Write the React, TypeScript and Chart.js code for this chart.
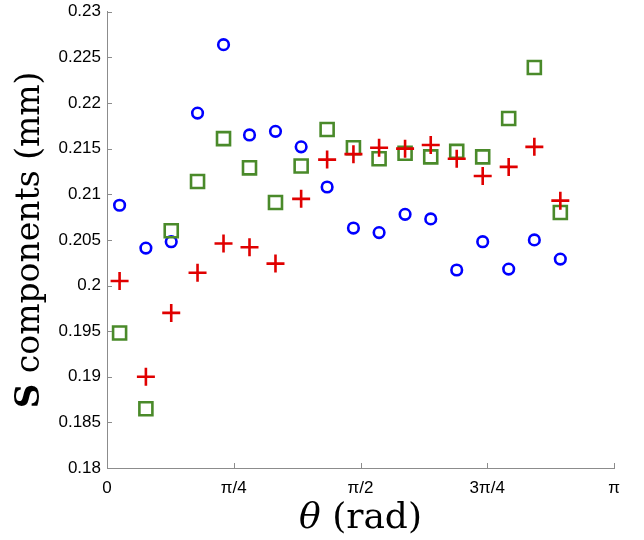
import React, { useEffect, useRef } from "react";
import { Chart, registerables } from "chart.js";

Chart.register(...registerables);

// angle of each sample (rad)
const thetaRad = [0.078, 0.241, 0.398, 0.561, 0.722, 0.883, 1.044, 1.203, 1.364, 1.527, 1.686, 1.847, 2.006, 2.167, 2.328, 2.489, 2.648, 2.809];

// S components (mm)
const blueS = [0.2088, 0.2041, 0.2048, 0.2189, 0.2264, 0.2165, 0.2169, 0.2152, 0.2108, 0.2063, 0.2058, 0.2078, 0.2073, 0.2017, 0.2048, 0.2018, 0.205, 0.2029];
const redS = [0.2005, 0.19, 0.197, 0.2014, 0.2046, 0.2042, 0.2024, 0.2095, 0.2138, 0.2144, 0.2151, 0.215, 0.2154, 0.2139, 0.212, 0.213, 0.2152, 0.2093];
const greenS = [0.1948, 0.1865, 0.206, 0.2114, 0.2161, 0.2129, 0.2091, 0.2131, 0.2171, 0.2151, 0.2139, 0.2145, 0.2141, 0.2147, 0.2141, 0.2183, 0.2239, 0.208];

// tick values and labels
const xTickValues = [0, Math.PI / 4, Math.PI / 2, (3 * Math.PI) / 4, Math.PI];
const xTickLabels = ["0", "π/4", "π/2", "3π/4", "π"];
const yTickValues = [0.18, 0.185, 0.19, 0.195, 0.2, 0.205, 0.21, 0.215, 0.22, 0.225, 0.23];
const yTickLabels = ["0.18", "0.185", "0.19", "0.195", "0.2", "0.205", "0.21", "0.215", "0.22", "0.225", "0.23"];

const AXIS_COLOR = "#8c8c8c";
const BLUE = "#0000ff";
const RED = "#e00000";
const GREEN = "#4a8a2a";

const toPoints = (ys: number[]) => ys.map((y, i) => ({ x: thetaRad[i], y }));

const decorPlugin = {
  id: "decor",
  afterDraw(chart: any) {
    const ctx: CanvasRenderingContext2D = chart.ctx;
    const xs = chart.scales.x;
    const ys = chart.scales.y;
    const { left, right, top, bottom } = chart.chartArea;
    ctx.save();
    // inward tick marks
    ctx.strokeStyle = AXIS_COLOR;
    ctx.lineWidth = 1;
    ctx.beginPath();
    xs.ticks.forEach((t: any) => {
      const px = Math.round(xs.getPixelForValue(t.value)) + 0.5;
      ctx.moveTo(px, bottom);
      ctx.lineTo(px, bottom - 5);
    });
    ys.ticks.forEach((t: any) => {
      const py = Math.round(ys.getPixelForValue(t.value)) + 0.5;
      ctx.moveTo(left, py);
      ctx.lineTo(left + 5, py);
    });
    ctx.stroke();

    // x title: θ (rad)
    ctx.fillStyle = "#000";
    ctx.textBaseline = "alphabetic";
    ctx.textAlign = "left";
    const fxI = 'italic 36px "DejaVu Serif"';
    const fxR = '36px "DejaVu Serif"';
    ctx.font = fxI;
    const w1 = ctx.measureText("θ").width;
    ctx.font = fxR;
    const w2 = ctx.measureText(" (rad)").width;
    const cx = (left + right) / 2;
    const x0 = cx - (w1 + w2) / 2;
    const by = chart.height - 12;
    ctx.font = fxI;
    ctx.fillText("θ", x0, by);
    ctx.font = fxR;
    ctx.fillText(" (rad)", x0 + w1, by);

    // y title: S components (mm)
    const fyB = 'bold 34px "DejaVu Serif"';
    const fyR = '33px "DejaVu Serif"';
    ctx.font = fyB;
    const s1 = ctx.measureText("S").width;
    ctx.font = fyR;
    const s2 = ctx.measureText(" components (mm)").width;
    const cy = (top + bottom) / 2;
    ctx.translate(39, cy);
    ctx.rotate(-Math.PI / 2);
    const y0 = -(s1 + s2) / 2;
    ctx.font = fyB;
    ctx.fillText("S", y0, 0);
    ctx.font = fyR;
    ctx.fillText(" components (mm)", y0 + s1, 0);
    ctx.restore();
  },
};

export default function App() {
  const ref = useRef<HTMLCanvasElement | null>(null);

  useEffect(() => {
    if (!ref.current) return;
    const chart = new Chart(ref.current, {
      type: "scatter",
      data: {
        datasets: [
          {
            label: "red",
            data: toPoints(redS),
            pointStyle: "cross",
            radius: 9,
            borderWidth: 2.6,
            borderColor: RED,
            backgroundColor: RED,
            clip: false as any,
          },
          {
            label: "green",
            data: toPoints(greenS),
            pointStyle: "rect",
            radius: 9.2,
            borderWidth: 2.6,
            borderColor: GREEN,
            backgroundColor: "rgba(0,0,0,0)",
            clip: false as any,
          },
          {
            label: "blue",
            data: toPoints(blueS),
            pointStyle: "circle",
            radius: 5.3,
            borderWidth: 2.6,
            borderColor: BLUE,
            backgroundColor: "rgba(0,0,0,0)",
            clip: false as any,
          },
        ],
      },
      options: {
        animation: false,
        responsive: false,
        events: [],
        layout: { padding: { top: 6, right: 30, left: 0, bottom: 0 } },
        plugins: { legend: { display: false }, tooltip: { enabled: false } },
        elements: { point: { hoverRadius: 0 } },
        scales: {
          x: {
            type: "linear",
            min: 0,
            max: Math.PI,
            grid: { display: false, drawTicks: false },
            border: { display: true, color: AXIS_COLOR, width: 1 },
            afterBuildTicks: (scale: any) => {
              scale.ticks = xTickValues.map((v) => ({ value: v }));
            },
            afterFit: (scale: any) => {
              scale.height = 72;
              scale.paddingLeft = 0;
              scale.paddingRight = 0;
            },
            ticks: {
              autoSkip: false,
              maxRotation: 0,
              padding: 10,
              color: "#000",
              font: { family: '"Liberation Sans", Arial, sans-serif', size: 17 },
              callback: (_v: any, i: number) => xTickLabels[i],
            },
          },
          y: {
            type: "linear",
            min: 0.18,
            max: 0.23,
            grid: { display: false, drawTicks: false },
            border: { display: true, color: AXIS_COLOR, width: 1 },
            afterBuildTicks: (scale: any) => {
              scale.ticks = yTickValues.map((v) => ({ value: v }));
            },
            afterFit: (scale: any) => {
              scale.width = 107;
              scale.paddingTop = 0;
              scale.paddingBottom = 0;
            },
            ticks: {
              autoSkip: false,
              padding: 6,
              color: "#000",
              font: { family: '"Liberation Sans", Arial, sans-serif', size: 17 },
              callback: (_v: any, i: number) => yTickLabels[i],
            },
          },
        },
      },
      plugins: [decorPlugin],
    });
    return () => chart.destroy();
  }, []);

  return (
    <div style={{ position: "fixed", left: 0, top: 0, width: 644, height: 540, background: "#fff" }}>
      <canvas ref={ref} width={644} height={540} style={{ display: "block" }} />
    </div>
  );
}
